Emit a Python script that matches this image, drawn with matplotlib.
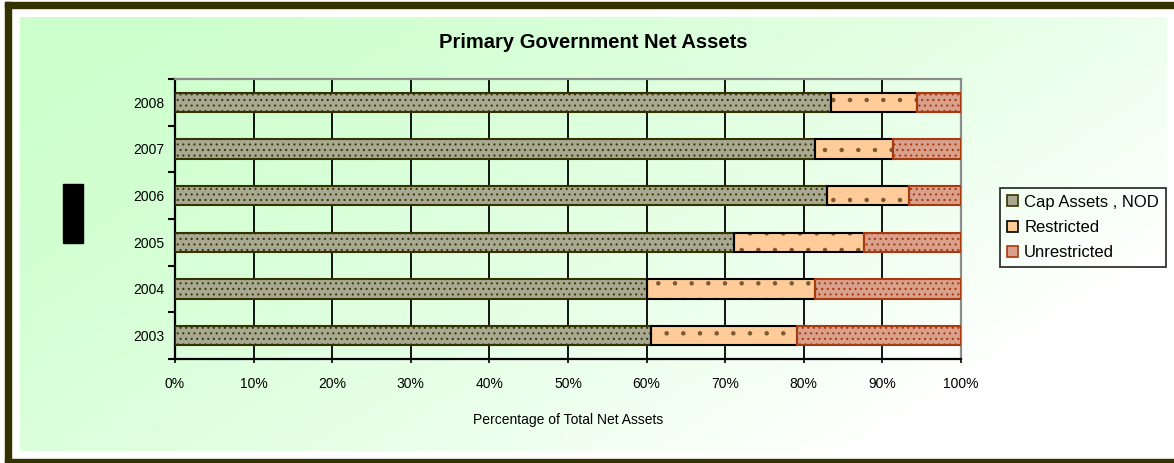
import numpy as np
import matplotlib
matplotlib.use("Agg")
import matplotlib.pyplot as plt
from matplotlib.patches import Rectangle, Patch
from matplotlib.ticker import MultipleLocator, FixedLocator, PercentFormatter

plt.rcParams['font.family'] = ['Liberation Sans', 'DejaVu Sans']
plt.rcParams['hatch.linewidth'] = 0.8

years = ['2003', '2004', '2005', '2006', '2007', '2008']
cap_assets = [60.6, 60.1, 71.1, 83.0, 81.4, 83.5]
restricted = [18.5, 21.3, 16.6, 10.4, 9.9, 10.9]
unrestricted = [100 - c - r for c, r in zip(cap_assets, restricted)]
series_names = ['Cap Assets , NOD', 'Restricted', 'Unrestricted']

W, H = 1174, 463
fig = plt.figure(figsize=(W / 100, H / 100), dpi=100)

# background
bg = fig.add_axes([0, 0, 1, 1])
bg.set_xlim(0, W)
bg.set_ylim(H, 0)
bg.axis('off')
nx, ny = 300, 120
xx, yy = np.meshgrid(np.linspace(0, 1, nx), np.linspace(0, 1, ny))
t = np.clip(0.75 * xx + 0.45 * yy, 0, 1) ** 1.5
c0 = np.array([0.80, 1.0, 0.80])
c1 = np.array([1.0, 1.0, 1.0])
img = c0[None, None, :] * (1 - t[..., None]) + c1[None, None, :] * t[..., None]
bg.imshow(img, extent=[20, 1167, 451, 17], aspect='auto', zorder=0)
dark = '#333300'
bg.add_patch(Rectangle((5, 2), 1169, 6, color=dark, zorder=2))
bg.add_patch(Rectangle((5, 2), 6, 460, color=dark, zorder=2))
bg.add_patch(Rectangle((5, 459), 1169, 6, color=dark, zorder=2))
bg.add_patch(Rectangle((63, 184), 20, 59, color='black', zorder=2))

# main axes
ax = fig.add_axes([175 / W, 1 - 359 / H, (961 - 175) / W, (359 - 79) / H])
ax.patch.set_alpha(0)

y = np.arange(len(years))
h = 0.41
cap = np.array(cap_assets)
res = np.array(restricted)
unr = np.array(unrestricted)

styles = [
    dict(face='#A9A991', edge='#333300', hcol='#3A3A10', hatch='...'),
    dict(face='#FFCC99', edge='#000000', hcol='#7A5A30', hatch='.'),
    dict(face='#D9A08C', edge='#A83A10', hcol='#A83A10', hatch='...'),
]
lefts = [np.zeros_like(cap), cap, cap + res]
vals = [cap, res, unr]
for v, l, s in zip(vals, lefts, styles):
    ax.barh(y, v, left=l, height=h, color=s['face'], edgecolor='none', zorder=3)
    ax.barh(y, v, left=l, height=h, color='none', edgecolor=s['hcol'],
            hatch=s['hatch'], linewidth=0, zorder=4)
    ax.barh(y, v, left=l, height=h, color='none', edgecolor=s['edge'],
            linewidth=1.5, zorder=5)

ax.set_xlim(0, 100)
ax.set_ylim(-0.5, len(years) - 0.5)
ax.xaxis.set_major_locator(MultipleLocator(10))
ax.xaxis.set_major_formatter(PercentFormatter(decimals=0))
ax.grid(axis='x', color='black', linewidth=1.3, zorder=1)
ax.set_axisbelow(True)

ax.set_yticks(y)
ax.set_yticklabels(years)
ax.yaxis.set_minor_locator(FixedLocator(np.arange(-0.5, len(years), 1)))
ax.tick_params(axis='y', which='major', length=0, pad=8, labelsize=10)
ax.tick_params(axis='y', which='minor', length=5, width=1.5, color='black')
ax.tick_params(axis='x', length=3, width=1.2, pad=10, labelsize=10)

for side in ['left', 'bottom']:
    ax.spines[side].set_color('black')
    ax.spines[side].set_linewidth(1.6)
for side in ['top', 'right']:
    ax.spines[side].set_color('#8C8C8C')
    ax.spines[side].set_linewidth(1.6)

ax.set_xlabel('Percentage of Total Net Assets', fontsize=10, labelpad=16)

fig.text(593 / W, 1 - 42 / H, 'Primary Government Net Assets', ha='center',
         va='center', fontsize=14.5, fontweight='bold')

handles = [Patch(facecolor=s['face'], edgecolor=s['edge'], linewidth=1.2)
           for s in styles]
leg = fig.legend(handles, series_names, loc='upper left',
                 bbox_to_anchor=(1000 / W, 1 - 188 / H), fontsize=12,
                 frameon=True, fancybox=False, edgecolor='black',
                 handlelength=0.65, handleheight=0.65, handletextpad=0.4,
                 borderpad=0.4, labelspacing=0.62, borderaxespad=0)
leg.get_frame().set_facecolor('none')
leg.get_frame().set_linewidth(1.3)

fig.savefig('out.png', dpi=100)
